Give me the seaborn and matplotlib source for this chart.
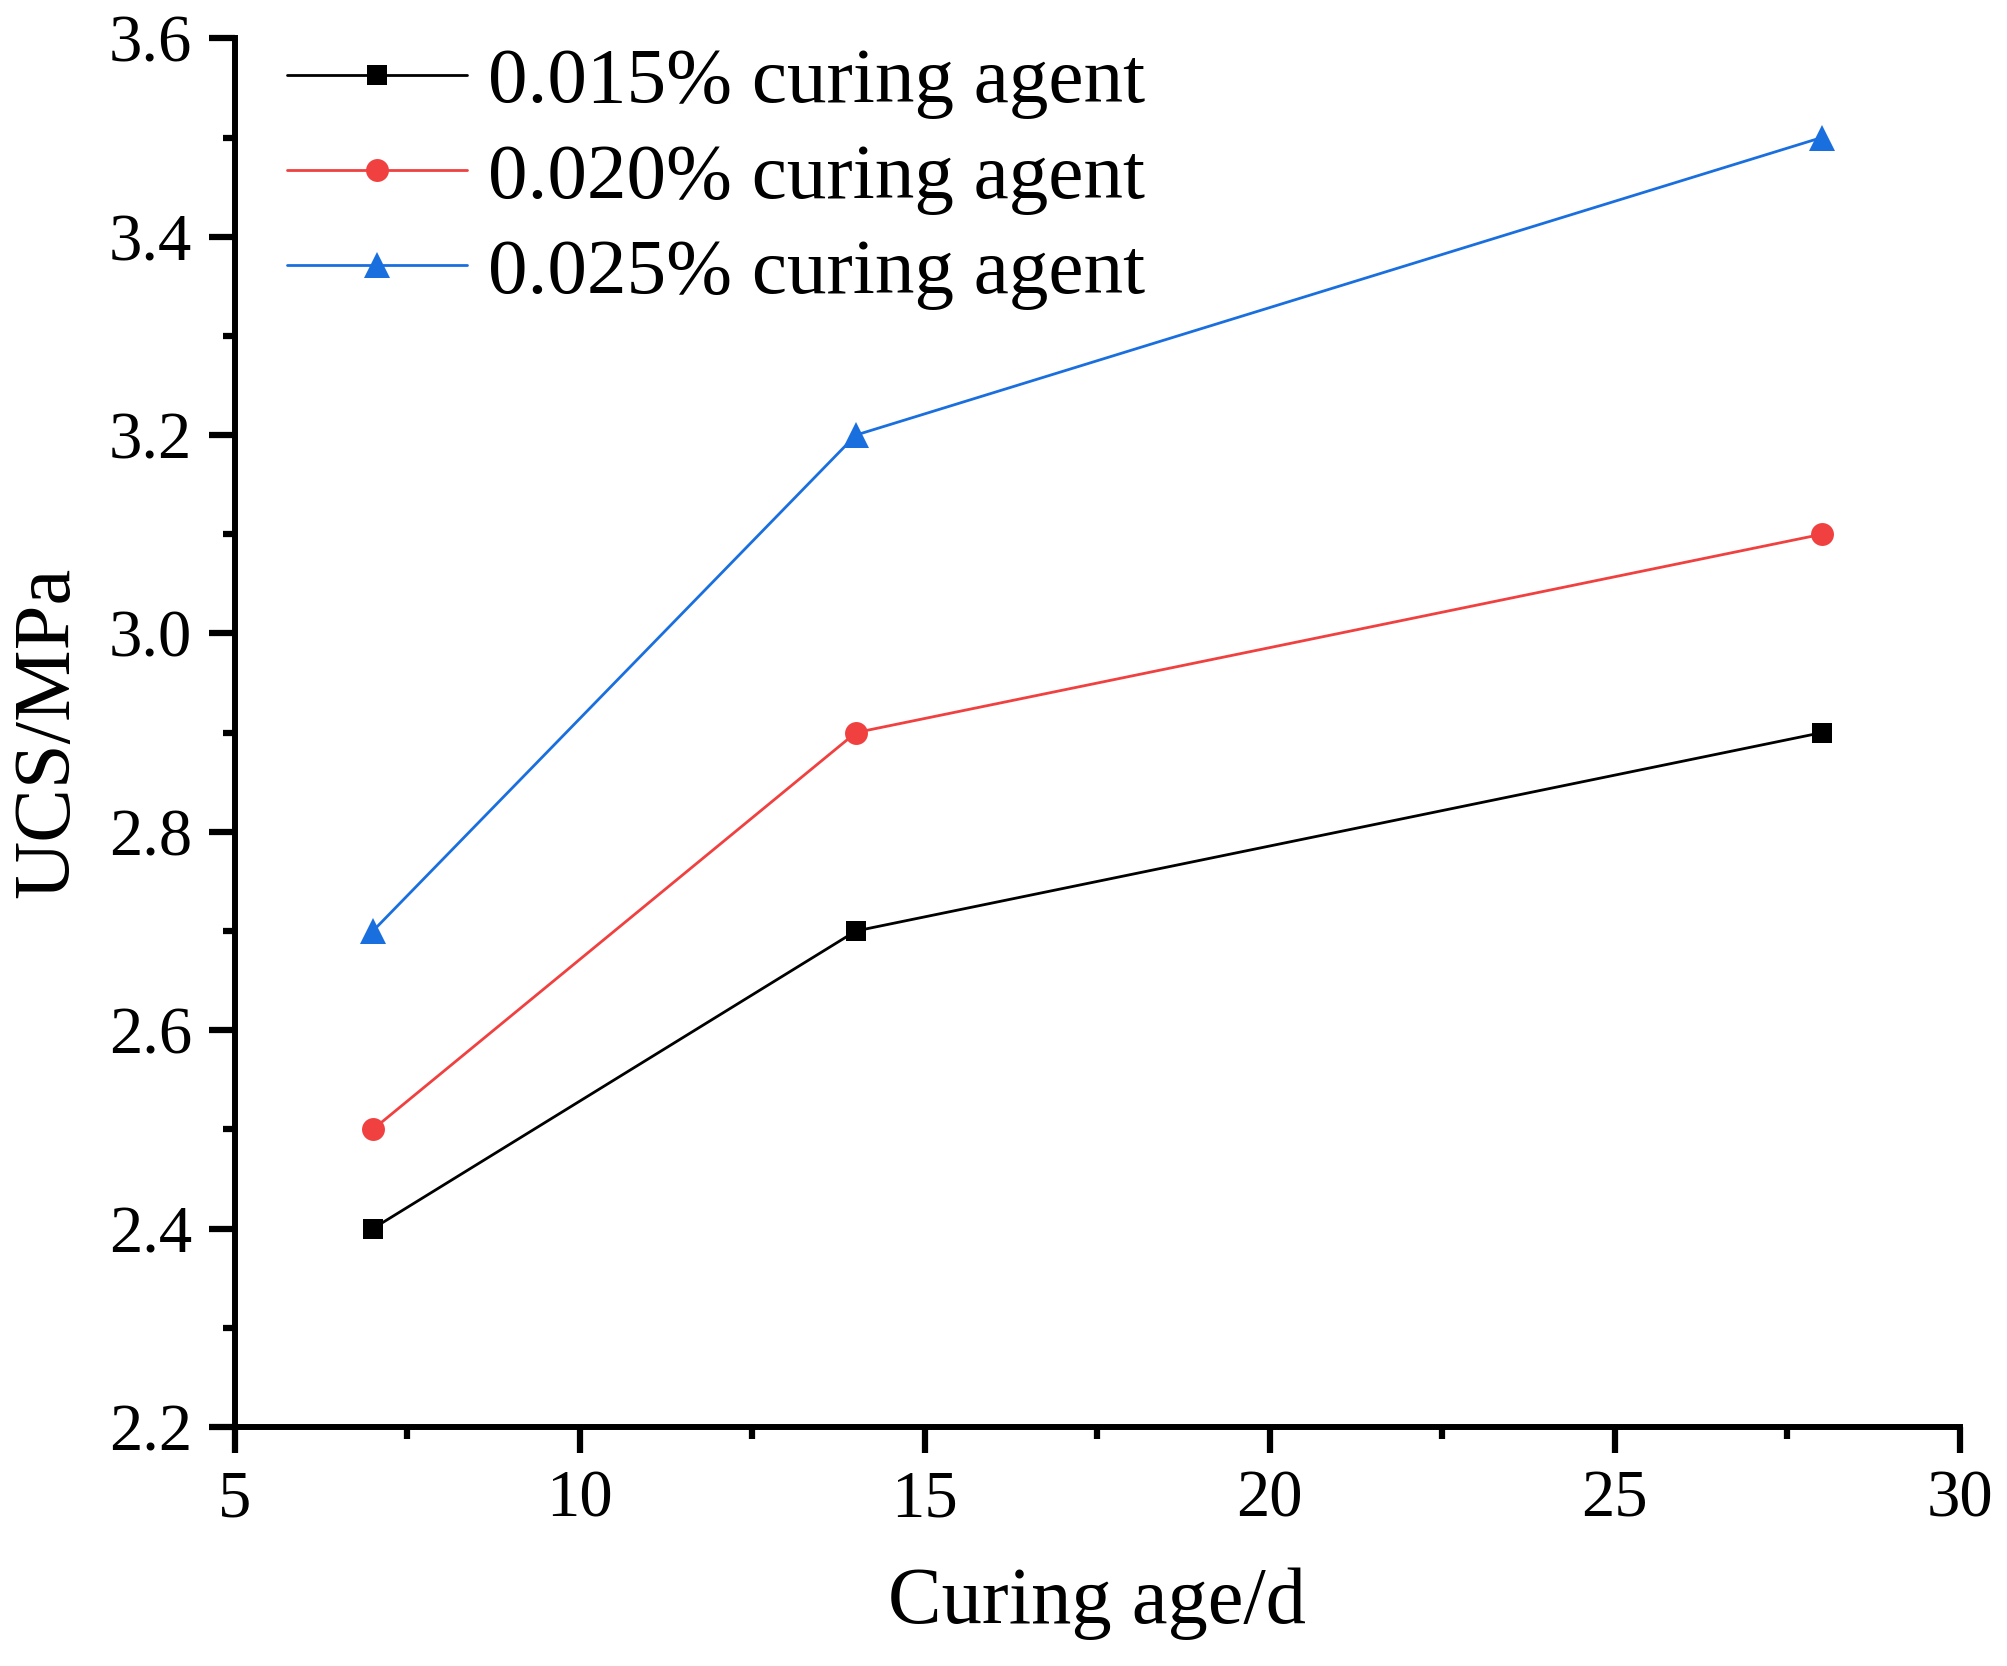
import numpy as np
import pandas as pd
import matplotlib
matplotlib.use("Agg")
import matplotlib.pyplot as plt
import seaborn as sns
from matplotlib.ticker import MultipleLocator

# data
curing_age = [7, 14, 28]
ucs_015 = [2.4, 2.7, 2.9]
ucs_020 = [2.5, 2.9, 3.1]
ucs_025 = [2.7, 3.2, 3.5]
labels = ['0.015% curing agent', '0.020% curing agent', '0.025% curing agent']

sns.set_theme(style='ticks')
plt.rcParams['font.family'] = ['Liberation Serif', 'DejaVu Serif']
plt.rcParams['text.color'] = 'black'
plt.rcParams['axes.labelcolor'] = 'black'

fig = plt.figure(figsize=(20.08, 16.66), dpi=100)
ax = fig.add_axes([0.117, 0.1435, 0.859, 0.8335])

series = [(ucs_015, '#000000', 's', 15),
          (ucs_020, '#F04040', 'o', 16.5),
          (ucs_025, '#1A6FDF', '^', 19)]
for (vals, col, mk, ms), lab in zip(series, labels):
    df = pd.DataFrame({'age': curing_age, 'ucs': vals})
    sns.lineplot(data=df, x='age', y='ucs', ax=ax, color=col, marker=mk,
                 markersize=ms, markeredgewidth=0, linewidth=2.0, label=lab)

ax.set_xlim(5, 30)
ax.set_ylim(2.2, 3.6)
ax.xaxis.set_major_locator(MultipleLocator(5))
ax.xaxis.set_minor_locator(MultipleLocator(2.5))
ax.yaxis.set_major_locator(MultipleLocator(0.2))
ax.yaxis.set_minor_locator(MultipleLocator(0.1))
ax.yaxis.set_major_formatter(matplotlib.ticker.FormatStrFormatter('%.1f'))

sns.despine(ax=ax)
for sp in ['left', 'bottom']:
    ax.spines[sp].set_linewidth(4.3)
    ax.spines[sp].set_color('black')

ax.tick_params(which='major', direction='out', length=19, width=4.5,
               labelsize=48, pad=12, colors='black')
ax.tick_params(which='minor', direction='out', length=8.5, width=4.5, colors='black')

ax.set_xlabel('Curing age/d', fontsize=58, labelpad=26)
ax.set_ylabel('UCS/MPa', fontsize=58, labelpad=17)

leg = ax.legend(loc='upper left', bbox_to_anchor=(0.0185, 1.008), frameon=False,
                fontsize=57, handlelength=2.28, handletextpad=0.26,
                labelspacing=0.29, borderaxespad=0.0, borderpad=0.25)

fig.savefig('out.png', dpi=100, facecolor='white')
